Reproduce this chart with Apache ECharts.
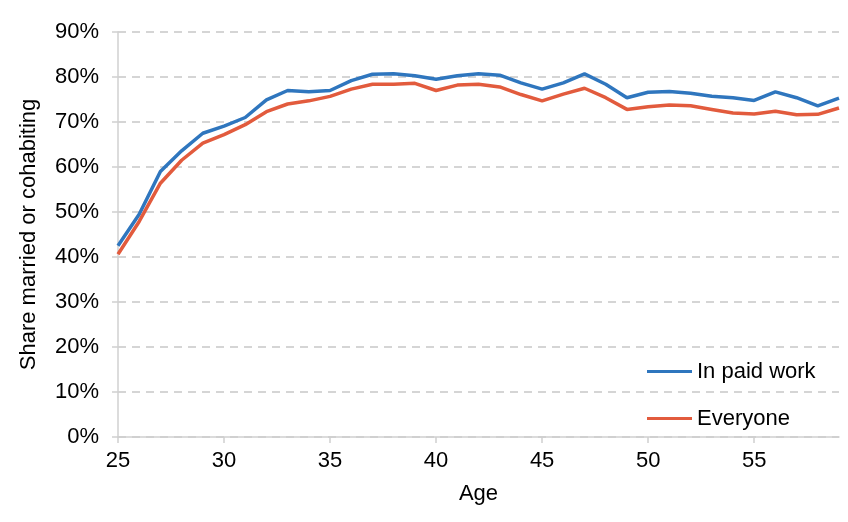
<!DOCTYPE html>
<html>
<head>
<meta charset="utf-8">
<script src="https://cdn.jsdelivr.net/npm/echarts@6/dist/echarts.min.js"></script>
<style>
  html, body { margin: 0; padding: 0; background: #ffffff; }
  #chart { width: 848px; height: 522px; }
</style>
</head>
<body>
<div id="chart"></div>
<script>
// Ages on the x axis
const ages = [25, 26, 27, 28, 29, 30, 31, 32, 33, 34, 35, 36, 37, 38, 39, 40, 41,
    42, 43, 44, 45, 46, 47, 48, 49, 50, 51, 52, 53, 54, 55, 56, 57, 58, 59];

// Share married or cohabiting, %
const inPaidWork = [42.5, 49.5, 59.0, 63.6, 67.5, 69.1, 71.0, 74.9, 77.0, 76.7, 77.0, 79.2,
    80.6, 80.7, 80.3, 79.5, 80.3, 80.7, 80.4, 78.7, 77.3, 78.7, 80.7, 78.4, 75.4,
    76.6, 76.8, 76.4, 75.7, 75.4, 74.8, 76.7, 75.4, 73.6, 75.3];
const everyone = [40.6, 47.9, 56.4, 61.5, 65.3, 67.2, 69.4, 72.3, 74.0, 74.7, 75.7, 77.3,
    78.4, 78.4, 78.6, 77.0, 78.2, 78.4, 77.8, 76.1, 74.7, 76.2, 77.5, 75.4, 72.8,
    73.4, 73.8, 73.6, 72.8, 72.0, 71.8, 72.4, 71.6, 71.7, 73.1];

const yTicks = { min: 0, max: 90, step: 10 };
const xTicks = { min: 25, max: 59, step: 5 };

const fontFamily = '"Liberation Sans", Arial, sans-serif';
const fontSize = 22;
const axisGrey = '#d0d0d0';

function pairs(values) {
    return ages.map((a, i) => [a, values[i]]);
}

const chart = echarts.init(document.getElementById('chart'), null, { renderer: 'canvas' });

const option = {
    animation: false,
    textStyle: { fontFamily: fontFamily, color: '#000' },
    grid: {
        left: 118,
        right: 9,
        top: 32,
        bottom: 85,
        containLabel: false
    },
    legend: {
        orient: 'vertical',
        left: 647,
        top: 359,
        padding: 0,
        itemWidth: 45,
        itemHeight: 3,
        itemGap: 22,
        icon: 'rect',
        textStyle: {
            fontFamily: fontFamily,
            fontSize: fontSize,
            color: '#000',
            lineHeight: 25
        },
        data: ['In paid work', 'Everyone']
    },
    xAxis: {
        type: 'value',
        min: xTicks.min,
        max: xTicks.max,
        interval: xTicks.step,
        name: 'Age',
        nameLocation: 'middle',
        nameGap: 46,
        nameTextStyle: { fontSize: fontSize, color: '#000', fontFamily: fontFamily },
        axisLine: { show: true, lineStyle: { color: axisGrey, width: 1.5 } },
        axisTick: { show: true, length: 6, lineStyle: { color: axisGrey, width: 1.5 } },
        axisLabel: {
            fontSize: fontSize,
            color: '#000',
            fontFamily: fontFamily,
            margin: 13,
            showMaxLabel: false
        },
        splitLine: { show: false }
    },
    yAxis: {
        type: 'value',
        min: yTicks.min,
        max: yTicks.max,
        interval: yTicks.step,
        name: 'Share married or cohabiting',
        nameLocation: 'middle',
        nameGap: 78,
        nameTextStyle: { fontSize: fontSize, color: '#000', fontFamily: fontFamily },
        axisLine: { show: true, lineStyle: { color: axisGrey, width: 1.5 } },
        axisTick: { show: true, length: 6, lineStyle: { color: axisGrey, width: 1.5 } },
        axisLabel: {
            fontSize: fontSize,
            color: '#000',
            fontFamily: fontFamily,
            margin: 19,
            formatter: '{value}%'
        },
        splitLine: {
            show: true,
            lineStyle: { color: '#c8c8c8', type: [8, 6], width: 1.5 }
        }
    },
    series: [
        {
            name: 'In paid work',
            type: 'line',
            data: pairs(inPaidWork),
            symbol: 'none',
            lineStyle: { color: '#2F76BE', width: 3.5 },
            itemStyle: { color: '#2F76BE' }
        },
        {
            name: 'Everyone',
            type: 'line',
            data: pairs(everyone),
            symbol: 'none',
            lineStyle: { color: '#E25B3D', width: 3.5 },
            itemStyle: { color: '#E25B3D' }
        }
    ]
};

chart.setOption(option);
</script>
</body>
</html>
